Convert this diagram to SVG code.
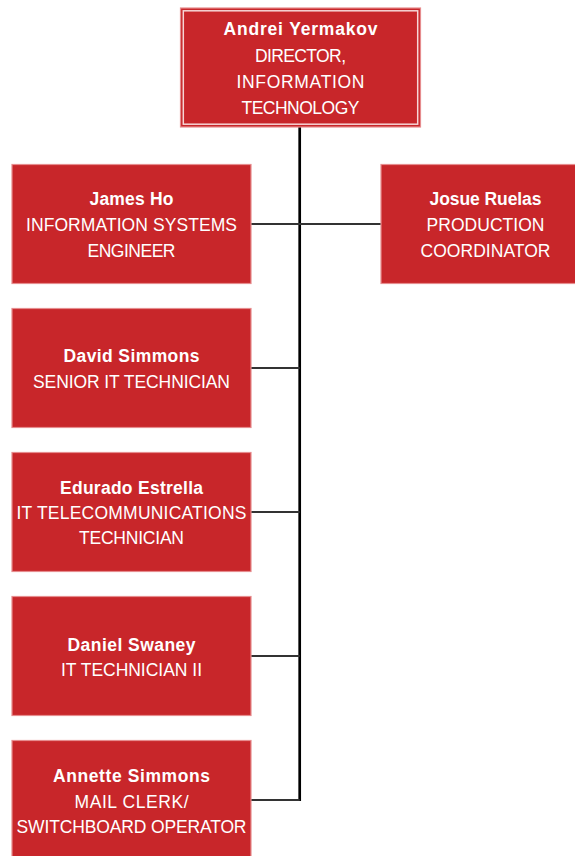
<svg xmlns="http://www.w3.org/2000/svg" width="575" height="856" viewBox="0 0 575 856">
<style>
.box{fill:#C8262A;stroke:#E68C8E;stroke-width:1.2}
.inner{fill:none;stroke:#F6D6D6;stroke-width:1.5}
text{font-family:"Liberation Sans",Arial,sans-serif;font-size:17.5px;fill:#FFFFFF;text-anchor:middle}
.n{font-weight:bold}
.trunk{stroke:#000;stroke-width:2.7;fill:none}
.c{stroke:#333;stroke-width:2;fill:none}
</style>
<rect width="575" height="856" fill="#FFFFFF"/>
<g id="connectors">
<line class="trunk" x1="299.7" y1="127" x2="299.7" y2="801"/>
<line class="c" x1="251" y1="224" x2="381" y2="224"/>
<line class="c" x1="251" y1="368" x2="299.7" y2="368"/>
<line class="c" x1="251" y1="512" x2="299.7" y2="512"/>
<line class="c" x1="251" y1="656" x2="299.7" y2="656"/>
<line class="c" x1="251" y1="800" x2="299.7" y2="800"/>
</g>
<g id="andrei">
<rect class="box" x="180.5" y="8" width="240" height="119"/>
<rect class="inner" x="183.3" y="10.8" width="234.4" height="113.4"/>
<text class="n" x="300.5" y="35" textLength="154">Andrei Yermakov</text>
<text x="300.5" y="62" textLength="91">DIRECTOR,</text>
<text x="300.5" y="88" textLength="128">INFORMATION</text>
<text x="300.5" y="113.5" textLength="118">TECHNOLOGY</text>
</g>
<g id="james">
<rect class="box" x="12" y="164.5" width="239" height="119"/>
<text class="n" x="131.5" y="205" textLength="84">James Ho</text>
<text x="131.5" y="231" textLength="211">INFORMATION SYSTEMS</text>
<text x="131.5" y="256.5" textLength="88">ENGINEER</text>
</g>
<g id="josue">
<rect class="box" x="381" y="164.5" width="210" height="119"/>
<text class="n" x="485.5" y="205" textLength="112">Josue Ruelas</text>
<text x="485.5" y="231" textLength="118">PRODUCTION</text>
<text x="485.5" y="256.5" textLength="130">COORDINATOR</text>
</g>
<g id="david">
<rect class="box" x="12" y="308.5" width="239" height="119"/>
<text class="n" x="131.5" y="362" textLength="136">David Simmons</text>
<text x="131.5" y="387.5" textLength="197">SENIOR IT TECHNICIAN</text>
</g>
<g id="edurado">
<rect class="box" x="12" y="452.5" width="239" height="119"/>
<text class="n" x="131.5" y="493.5" textLength="143">Edurado Estrella</text>
<text x="131.5" y="518.5" textLength="230">IT TELECOMMUNICATIONS</text>
<text x="131.5" y="544" textLength="105">TECHNICIAN</text>
</g>
<g id="daniel">
<rect class="box" x="12" y="596.5" width="239" height="119"/>
<text class="n" x="131.5" y="650.5" textLength="128">Daniel Swaney</text>
<text x="131.5" y="676" textLength="141">IT TECHNICIAN II</text>
</g>
<g id="annette">
<rect class="box" x="12" y="740.5" width="239" height="119"/>
<text class="n" x="131.5" y="781.5" textLength="157">Annette Simmons</text>
<text x="131.5" y="807.5" textLength="114">MAIL CLERK/</text>
<text x="131.5" y="833" textLength="230">SWITCHBOARD OPERATOR</text>
</g>
</svg>
